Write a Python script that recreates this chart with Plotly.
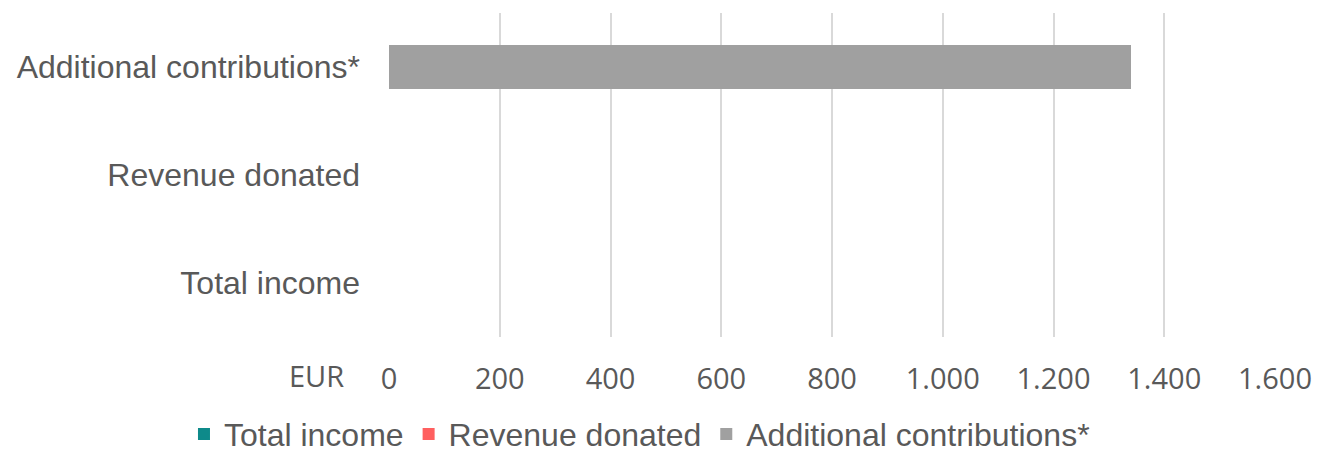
import plotly.graph_objects as go

categories = ["Total income", "Revenue donated", "Additional contributions*"]
values = [0, 0, 1340]
colors = ["#0E8A8A", "#FF5F5F", "#A0A0A0"]
x_ticks = [0, 200, 400, 600, 800, 1000, 1200, 1400, 1600]

TEXT = "#595959"
SANS = "Arial"

fig = go.Figure()
for cat, val, col in zip(categories, values, colors):
    fig.add_trace(go.Bar(
        y=[cat], x=[val], name=cat, orientation="h",
        marker=dict(color=col, line=dict(width=0)),
    ))

fig.update_layout(
    width=1320, height=455,
    margin=dict(l=389, r=45, t=13, b=118, autoexpand=False),
    paper_bgcolor="white", plot_bgcolor="white",
    barmode="stack", bargap=0.59,
    separators=",.",
    font=dict(family=SANS, size=32, color=TEXT),
    showlegend=True,
    legend=dict(
        orientation="h", xref="paper", yref="paper",
        x=-0.2314, xanchor="left", y=-0.215, yanchor="top",
        font=dict(family=SANS, size=32, color=TEXT),
        itemwidth=30, traceorder="normal",
    ),
    xaxis=dict(
        range=[0, 1600], tickvals=x_ticks, tickformat=",",
        showgrid=True, gridcolor="#D9D9D9", gridwidth=2,
        zeroline=False, showline=False, ticks="",
        ticklabelstandoff=22, automargin=False,
        tickfont=dict(family="Open Sans, sans-serif", size=29, color=TEXT),
        fixedrange=True,
    ),
    yaxis=dict(
        categoryorder="array", categoryarray=categories,
        showgrid=False, zeroline=False, showline=False, ticks="",
        ticklabelstandoff=28, automargin=False,
        tickfont=dict(family=SANS, size=32, color=TEXT),
        fixedrange=True,
    ),
    annotations=[dict(
        text="EUR", xref="paper", yref="paper", x=-0.048, y=0,
        xanchor="right", yanchor="middle", yshift=-38, showarrow=False,
        font=dict(family="Open Sans, sans-serif", size=29, color=TEXT),
    )],
)

fig.write_html(
    "out.html",
    config={"displayModeBar": False},
    post_script="document.body.style.margin='0';document.body.style.overflow='hidden';",
)
